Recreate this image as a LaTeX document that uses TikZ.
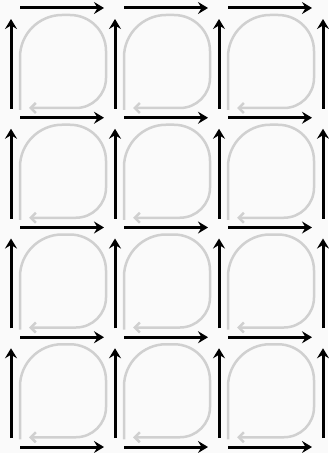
\documentclass[tikz,border=0pt]{standalone}
\usetikzlibrary{arrows.meta}
\definecolor{bgc}{HTML}{FAFAFA}
\definecolor{loopc}{HTML}{D0D0D0}
\begin{document}
\begin{tikzpicture}[x=1bp,y=-1bp,
  harrow/.style={line width=3bp,-{Stealth[length=10bp,width=12bp,inset=3.5bp]},shorten <=9bp,shorten >=11bp},
  garrow/.style={draw=loopc,line width=2.5bp,-{Straight Barb[length=5bp,width=10bp]}}]
\fill[bgc] (0,0) rectangle (328,453);
\useasboundingbox (0,0) rectangle (328,453);
\foreach \i in {0,...,3}{
  \foreach \j in {0,...,4}{
    \coordinate (p-\i-\j) at ({11+104*\i},{8+109.75*\j});
  }
}
% gray loops
\foreach \i in {0,1,2}{
  \foreach \j in {0,...,3}{
    \begin{scope}[shift={(p-\i-\j)}]
      \draw[garrow] (9,102) -- (9,49) .. controls (9,26) and (28,7) .. (51,7)
        -- (59,7) .. controls (79,7) and (95,23) .. (95,43)
        -- (95,70) .. controls (95,86.5) and (81.5,100) .. (65,100)
        -- (18,100);
    \end{scope}
  }
}
% horizontal arrows
\foreach \i in {0,1,2}{
  \foreach \j in {0,...,4}{
    \pgfmathtruncatemacro\k{\i+1}
    \draw[harrow] (p-\i-\j) -- (p-\k-\j);
  }
}
% vertical arrows
\foreach \i in {0,...,3}{
  \foreach \j in {0,...,3}{
    \pgfmathtruncatemacro\k{\j+1}
    \draw[harrow] (p-\i-\k) -- (p-\i-\j);
  }
}
\end{tikzpicture}
\end{document}
